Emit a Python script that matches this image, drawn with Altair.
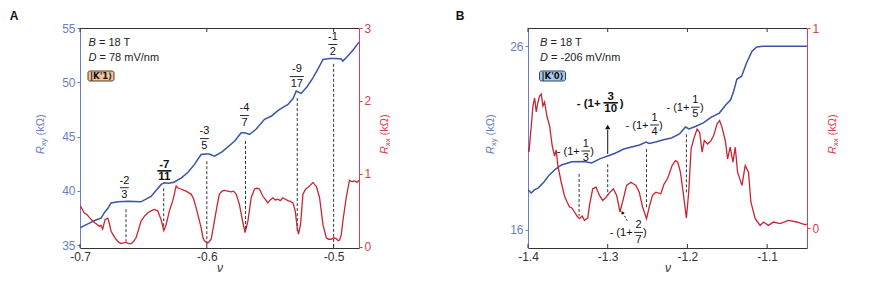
import altair as alt
import pandas as pd

FONT = "Liberation Sans"
BLUE = "#3b54a5"
BLUE_AX = "#6a7dc6"
RED = "#c92432"
RED_AX = "#d8414d"
DARK = "#333333"

# ---------------- Panel A data ----------------
a_xy_nu = [-0.700, -0.6934, -0.688, -0.6834, -0.6808, -0.678, -0.6755, -0.670, -0.662, -0.652,
           -0.644, -0.636, -0.6335, -0.630, -0.626, -0.620, -0.615, -0.610, -0.6045, -0.601,
           -0.598, -0.594, -0.588, -0.578, -0.5729, -0.570, -0.5664, -0.5610, -0.5545, -0.549,
           -0.544, -0.540, -0.536, -0.5320, -0.5295, -0.5256, -0.5210, -0.5163, -0.5120, -0.5084,
           -0.503, -0.498, -0.494, -0.4927, -0.4890, -0.4845, -0.4800]
a_xy = [36.6, 37.0, 37.3, 37.5, 38.0, 38.4, 38.9, 39.0, 39.05, 39.0,
        39.5, 40.6, 40.75, 40.7, 40.8, 41.2, 41.7, 42.4, 43.35, 43.4,
        43.4, 43.2, 43.6, 44.6, 45.35, 45.35, 45.2, 45.7, 46.6, 46.9,
        47.4, 47.7, 47.97, 48.5, 49.2, 48.98, 49.6, 50.4, 51.3, 52.1,
        52.2, 52.2, 52.15, 51.95, 52.4, 53.0, 53.7]

a_xx_nu = [-0.7000, -0.6992, -0.6966, -0.6945, -0.6927, -0.6905, -0.6887, -0.6870, -0.6848, -0.6835,
           -0.6821, -0.6803, -0.6781, -0.6770, -0.6755, -0.6735, -0.6716, -0.6695, -0.6676, -0.6655,
           -0.6637, -0.6617, -0.6597, -0.6578, -0.6558, -0.6540, -0.6519, -0.6490, -0.6466, -0.6440,
           -0.6414, -0.6387, -0.6361, -0.6339, -0.6321, -0.6295, -0.6268, -0.6242, -0.6225, -0.6203,
           -0.6180, -0.6163, -0.6145, -0.6124, -0.6105, -0.6084, -0.6065, -0.6045, -0.6030, -0.6019,
           -0.6005, -0.5992, -0.5980, -0.5966, -0.5940, -0.5920, -0.5901, -0.5880, -0.5861, -0.5835,
           -0.5808, -0.5790, -0.5769, -0.5743, -0.5716, -0.5698, -0.5676, -0.5650, -0.5624, -0.5605,
           -0.5585, -0.5558, -0.5540, -0.5519, -0.5500, -0.5479, -0.5460, -0.5440, -0.5420, -0.5400,
           -0.5380, -0.5361, -0.5340, -0.5321, -0.5303, -0.5287, -0.5277, -0.5261, -0.5242, -0.5220,
           -0.5203, -0.5185, -0.5163, -0.5150, -0.5137, -0.5111, -0.5084, -0.5058, -0.5040, -0.5019,
           -0.5000, -0.4979, -0.4965, -0.4953, -0.4940, -0.4927, -0.4901, -0.4875, -0.4855, -0.4835,
           -0.4815, -0.4800]
a_xx = [0.56, 0.54, 0.46, 0.44, 0.40, 0.36, 0.33, 0.31, 0.28, 0.29,
        0.24, 0.37, 0.39, 0.33, 0.21, 0.15, 0.10, 0.06, 0.04, 0.05,
        0.06, 0.04, 0.04, 0.07, 0.12, 0.22, 0.35, 0.42, 0.46, 0.49,
        0.51, 0.49, 0.37, 0.22, 0.30, 0.49, 0.63, 0.83, 0.80, 0.79,
        0.77, 0.76, 0.74, 0.72, 0.66, 0.53, 0.40, 0.26, 0.12, 0.08,
        0.06, 0.05, 0.07, 0.10, 0.35, 0.55, 0.72, 0.76, 0.77, 0.76,
        0.75, 0.76, 0.72, 0.58, 0.33, 0.19, 0.35, 0.67, 0.79, 0.80,
        0.79, 0.69, 0.65, 0.60, 0.64, 0.67, 0.64, 0.65, 0.63, 0.67,
        0.65, 0.63, 0.62, 0.60, 0.49, 0.26, 0.17, 0.30, 0.72, 0.79,
        0.81, 0.84, 0.88, 0.85, 0.83, 0.67, 0.30, 0.12, 0.10, 0.10,
        0.12, 0.11, 0.08, 0.09, 0.16, 0.35, 0.67, 0.91, 0.89, 0.90,
        0.88, 0.91]

a_frac_nu = [-0.665, -0.6335, -0.6019, -0.5703, -0.529, -0.5006]
a_frac_y = [40.30, 41.85, 44.82, 46.94, 50.53, 53.48]
a_frac_num = ["-2", "-7", "-3", "-4", "-9", "-1"]
a_frac_den = ["3", "11", "5", "7", "17", "2"]
a_frac_bold = [False, True, False, False, False, False]

a_dash_nu = [-0.6637, -0.634, -0.600, -0.5695, -0.5287, -0.500]
a_dash_top = [38.32, 40.25, 42.74, 44.6, 48.55, 51.7]
a_dash_bot = [35.37, 36.57, 35.1, 36.3, 36.3, 34.9]

# ---------------- Panel B data ----------------
b_xy_nu = [-1.400, -1.396, -1.392, -1.387, -1.380, -1.373, -1.365, -1.358, -1.345, -1.330,
           -1.320, -1.310, -1.300, -1.290, -1.280, -1.270, -1.260, -1.252, -1.248, -1.240,
           -1.230, -1.220, -1.210, -1.2025, -1.198, -1.190, -1.180, -1.170, -1.160, -1.152,
           -1.146, -1.142, -1.138, -1.132, -1.126, -1.119, -1.113, -1.105, -1.050]
b_xy = [18.17, 18.0, 18.17, 18.28, 18.6, 19.0, 19.32, 19.53, 19.7, 19.72,
        19.64, 19.86, 20.02, 20.18, 20.4, 20.51, 20.62, 20.78, 20.7, 20.78,
        20.9, 21.0, 21.22, 21.6, 21.49, 21.63, 21.82, 22.14, 22.36, 22.8,
        23.07, 23.55, 24.2, 24.37, 25.08, 25.73, 25.97, 26.0, 26.0]

b_xx_nu = [-1.4000, -1.3988, -1.3959, -1.3938, -1.3917, -1.3896, -1.3875, -1.3854, -1.3834, -1.3813,
           -1.3792, -1.3763, -1.3729, -1.3696, -1.3667, -1.3646, -1.3625, -1.3584, -1.3542, -1.3510,
           -1.3479, -1.3450, -1.3417, -1.3385, -1.3354, -1.3320, -1.3292, -1.3270, -1.3250, -1.3229,
           -1.3188, -1.3146, -1.3104, -1.3063, -1.3021, -1.2971, -1.2929, -1.2888, -1.2846, -1.2804,
           -1.2763, -1.2709, -1.2675, -1.2646, -1.2604, -1.2563, -1.2513, -1.2479, -1.2438, -1.2396,
           -1.2334, -1.2292, -1.2250, -1.2192, -1.2150, -1.2121, -1.2088, -1.2054, -1.2013, -1.1984,
           -1.1954, -1.1921, -1.1879, -1.1846, -1.1816, -1.1788, -1.1746, -1.1704, -1.1671, -1.1629,
           -1.1596, -1.1566, -1.1525, -1.1496, -1.1463, -1.1429, -1.1400, -1.1371, -1.1316, -1.1275,
           -1.1234, -1.1204, -1.1150, -1.1088, -1.1046, -1.0984, -1.0921, -1.0838, -1.0734, -1.0629,
           -1.0566, -1.0525, -1.0500]
b_xx = [0.40, 0.38, 0.51, 0.61, 0.65, 0.58, 0.63, 0.66, 0.67, 0.61,
        0.63, 0.56, 0.51, 0.41, 0.36, 0.39, 0.31, 0.23, 0.16, 0.13,
        0.105, 0.10, 0.08, 0.06, 0.047, 0.06, 0.038, 0.045, 0.05, 0.113,
        0.196, 0.204, 0.163, 0.138, 0.154, 0.179, 0.196, 0.163, 0.08, 0.146,
        0.213, 0.229, 0.22, 0.213, 0.179, 0.105, 0.047, 0.105, 0.163, 0.179,
        0.171, 0.221, 0.246, 0.312, 0.337, 0.329, 0.279, 0.179, 0.05, 0.179,
        0.396, 0.445, 0.495, 0.478, 0.379, 0.437, 0.42, 0.437, 0.462, 0.52,
        0.537, 0.503, 0.437, 0.346, 0.404, 0.329, 0.404, 0.279, 0.213, 0.312,
        0.279, 0.13, 0.047, 0.013, 0.03, 0.013, 0.03, 0.022, 0.038, 0.03,
        0.022, 0.017, 0.02]

b_frac_nu = [-1.3275, -1.2963, -1.2413, -1.1900, -1.2613]
b_frac_y = [20.29, 22.92, 21.71, 22.68, 15.85]
b_frac_num = ["1", "3", "1", "1", "2"]
b_frac_den = ["3", "10", "4", "5", "7"]
b_frac_bold = [False, True, False, False, False]

b_dash_nu = [-1.3359, -1.300, -1.2513, -1.2013]
b_dash_top = [19.04, 19.57, 20.39, 21.2]
b_dash_bot = [16.76, 17.85, 17.21, 18.03]

b_arrow_nu = [-1.300]
b_arrow_from = [20.13]
b_arrow_to = [21.45]
b_arrow_head = [21.6]

b_small_arrow_nu = [-1.2754, -1.2816]
b_small_arrow_y = [16.49, 16.94]


def t1(text):
    return pd.DataFrame({"t": [text]})


def panel(cfg):
    W, H = 279, 220
    xs = alt.Scale(domain=cfg["xdom"], nice=False, zero=False)
    ls = alt.Scale(domain=cfg["ldom"], nice=False, zero=False)
    rs = alt.Scale(domain=cfg["rdom"], nice=False, zero=False)
    xaxis = alt.Axis(values=cfg["xticks"], labelExpr="'-' + format(abs(datum.value), '.1f')",
                     title="ν", grid=False, ticks=False, domainColor=DARK, labelColor=DARK,
                     labelFontSize=12, labelFont=FONT, titleFont=FONT, titleFontSize=12,
                     titleFontStyle="italic", titleFontWeight="normal", titleColor=DARK,
                     labelPadding=3, titlePadding=0, labelFlush=False)
    laxis = alt.Axis(values=cfg["lticks"], orient="left", title=None, grid=False,
                     domainColor=BLUE_AX, tickColor=BLUE_AX, labelColor=BLUE_AX,
                     tickSize=3, labelPadding=2, labelFontSize=12, labelFont=FONT, format="d")
    raxis = alt.Axis(values=cfg["rticks"], orient="right", title=None, grid=False,
                     domainColor=RED_AX, tickColor=RED_AX, labelColor=RED_AX,
                     tickSize=3, labelPadding=2, labelFontSize=12, labelFont=FONT, format="d")
    X = lambda f: alt.X(f, scale=xs, axis=xaxis, title="ν")
    Y = lambda f: alt.Y(f, scale=ls, axis=laxis, title=None)

    df_xy = pd.DataFrame({"nu": cfg["xy_nu"], "v": cfg["xy"]})
    df_xx = pd.DataFrame({"nu": cfg["xx_nu"], "v": cfg["xx"]})

    line_xy = alt.Chart(df_xy).mark_line(color=BLUE, strokeWidth=1.5, clip=True).encode(
        x=X("nu:Q"), y=Y("v:Q"))

    df_dash = pd.DataFrame({"nu": cfg["dash_nu"], "top": cfg["dash_top"], "bot": cfg["dash_bot"]})
    dashes = alt.Chart(df_dash).mark_rule(color=DARK, strokeDash=[3, 2], strokeWidth=1).encode(
        x=X("nu:Q"), y=Y("top:Q"), y2="bot:Q")

    df_frac = pd.DataFrame({"nu": cfg["frac_nu"], "yb": cfg["frac_y"], "num": cfg["frac_num"],
                            "den": cfg["frac_den"], "bold": cfg["frac_bold"]})
    hw = cfg["hw"]
    layers = [line_xy, dashes]
    for bold in (False, True):
        wide = hw[2] if bold else hw[1]
        sub = alt.Chart(df_frac).transform_filter(
            "datum.bold" if bold else "!datum.bold").transform_calculate(
            x1=f"datum.nu - (length(datum.den) > 1 ? {wide} : {hw[0]})",
            x2=f"datum.nu + (length(datum.den) > 1 ? {wide} : {hw[0]})")
        fs = 11.5 if bold else 11
        fw = "bold" if bold else "normal"
        off = 6.2 if bold else 7.2
        layers.append(sub.mark_text(fontSize=fs, fontWeight=fw, font=FONT, color="#111",
                                    baseline="middle", dy=-off).encode(
            x=X("nu:Q"), y=Y("yb:Q"), text="num:N"))
        layers.append(sub.mark_text(fontSize=fs, fontWeight=fw, font=FONT, color="#111",
                                    baseline="middle", dy=off).encode(
            x=X("nu:Q"), y=Y("yb:Q"), text="den:N"))
        layers.append(sub.mark_rule(color="#111", strokeWidth=1.6 if bold else 0.9).encode(
            x=X("x1:Q"), x2="x2:Q", y=Y("yb:Q")))
        if cfg.get("paren"):
            pre_dx = -10 if bold else -6
            post_dx = 9 if bold else 4.5
            layers.append(sub.transform_calculate(p="'- (1+'").mark_text(
                fontSize=fs, fontWeight=fw, font=FONT, color="#111", align="right",
                baseline="middle", dx=pre_dx, dy=1).encode(
                x=X("nu:Q"), y=Y("yb:Q"), text="p:N"))
            layers.append(sub.transform_calculate(p="')'").mark_text(
                fontSize=fs, fontWeight=fw, font=FONT, color="#111", align="left",
                baseline="middle", dx=post_dx, dy=1).encode(
                x=X("nu:Q"), y=Y("yb:Q"), text="p:N"))

    if cfg.get("arrow"):
        df_ar = pd.DataFrame({"nu": b_arrow_nu, "a": b_arrow_from, "b": b_arrow_to, "h": b_arrow_head})
        layers.append(alt.Chart(df_ar).mark_rule(color="#111", strokeWidth=1).encode(
            x=X("nu:Q"), y=Y("a:Q"), y2="b:Q"))
        layers.append(alt.Chart(df_ar).mark_point(shape="triangle-up", filled=True, size=28,
                                                  color="#111", opacity=1).encode(
            x=X("nu:Q"), y=Y("h:Q")))
        df_sa = pd.DataFrame({"nu": b_small_arrow_nu, "y": b_small_arrow_y})
        layers.append(alt.Chart(df_sa).mark_line(color="#111", strokeDash=[2, 2], strokeWidth=1).encode(
            x=X("nu:Q"), y=Y("y:Q")))
        layers.append(alt.Chart(df_sa.iloc[[1]]).mark_point(shape="triangle-up", filled=True, size=14,
                                                            color="#111", opacity=1, angle=330).encode(
            x=X("nu:Q"), y=Y("y:Q")))

    # frame ticks (inward) at top and bottom, and top frame line
    df_t = pd.DataFrame({"nu": cfg["xticks"]})
    layers.append(alt.Chart(df_t).mark_rule(color=DARK, strokeWidth=1).encode(
        x=X("nu:Q"), y=alt.value(0), y2=alt.value(4)))
    layers.append(alt.Chart(df_t).mark_rule(color=DARK, strokeWidth=1).encode(
        x=X("nu:Q"), y=alt.value(H), y2=alt.value(H - 4)))
    layers.append(alt.Chart(t1("frame")).mark_rule(color=DARK, strokeWidth=1).encode(
        x=alt.value(0), x2=alt.value(W), y=alt.value(0.5)))

    # info text
    ix = cfg["info_x"]
    txt = dict(font=FONT, fontSize=11, color="#222", align="left", baseline="middle")
    layers.append(alt.Chart(t1("B")).mark_text(fontStyle="italic", **txt).encode(
        x=alt.value(ix), y=alt.value(15), text="t:N"))
    layers.append(alt.Chart(t1(cfg["b_text"])).mark_text(dx=10.5, **txt).encode(
        x=alt.value(ix), y=alt.value(15), text="t:N"))
    layers.append(alt.Chart(t1("D")).mark_text(fontStyle="italic", **txt).encode(
        x=alt.value(ix), y=alt.value(30), text="t:N"))
    layers.append(alt.Chart(t1(cfg["d_text"])).mark_text(dx=11, **txt).encode(
        x=alt.value(ix), y=alt.value(30), text="t:N"))
    layers.append(alt.Chart(t1(cfg["ket"])).mark_rect(
        fill=cfg["ket_fill"], stroke=cfg["ket_stroke"], strokeWidth=1, cornerRadius=2).encode(
        x=alt.value(ix - 0.5), x2=alt.value(ix + 25.5), y=alt.value(43), y2=alt.value(53)))
    layers.append(alt.Chart(t1(cfg["ket"])).mark_text(
        font="DejaVu Sans", fontSize=8.5, fontWeight="bold", color="#111", align="center",
        baseline="middle").encode(x=alt.value(ix + 12.5), y=alt.value(48.3), text="t:N"))

    # panel letter
    layers.append(alt.Chart(t1(cfg["letter"])).mark_text(
        font=FONT, fontSize=12, fontWeight="bold", color="#111", align="center",
        baseline="top").encode(x=alt.value(cfg["letter_x"]), y=alt.value(-17.5), text="t:N"))

    # axis titles (rotated, with subscript)
    def ytitle(x, sub, color):
        base = dict(font=FONT, color=color, angle=270, align="left", baseline="middle")
        return [
            alt.Chart(t1("R")).mark_text(fontSize=11, fontStyle="italic", **base).encode(
                x=alt.value(x), y=alt.value(126), text="t:N"),
            alt.Chart(t1(sub)).mark_text(fontSize=8, dx=7.8, dy=2.5, **base).encode(
                x=alt.value(x), y=alt.value(126), text="t:N"),
            alt.Chart(t1("(kΩ)")).mark_text(fontSize=11, dx=18.5, **base).encode(
                x=alt.value(x), y=alt.value(126), text="t:N"),
        ]
    layers += ytitle(cfg["lt_x"], "xy", BLUE_AX)
    layers += ytitle(cfg["rt_x"], "xx", RED_AX)

    left = alt.layer(*layers)

    right = alt.Chart(df_xx).mark_line(color=RED, strokeWidth=1.3, clip=True).encode(
        x=X("nu:Q"),
        y=alt.Y("v:Q", scale=rs, axis=raxis, title=None))

    return alt.layer(left, right).resolve_scale(y="independent").properties(width=W, height=H)


cfg_a = dict(xdom=[-0.7, -0.48], ldom=[34.75, 55], rdom=[-0.02, 3.0],
             xticks=[-0.7, -0.6, -0.5], lticks=[35, 40, 45, 50, 55], rticks=[0, 1, 2, 3],
             xy_nu=a_xy_nu, xy=a_xy, xx_nu=a_xx_nu, xx=a_xx,
             dash_nu=a_dash_nu, dash_top=a_dash_top, dash_bot=a_dash_bot,
             frac_nu=a_frac_nu, frac_y=a_frac_y, frac_num=a_frac_num, frac_den=a_frac_den,
             frac_bold=a_frac_bold, hw=[0.0035, 0.0055, 0.0055],
             info_x=8.5, b_text="= 18 T", d_text="= 78 mV/nm", ket="|K'1⟩",
             ket_fill="#f3c097", ket_stroke="#5a3d22", letter="A", letter_x=-66,
             lt_x=-39, rt_x=305)
cfg_b = dict(xdom=[-1.4, -1.05], ldom=[15, 27], rdom=[-0.1, 1.0],
             xticks=[-1.4, -1.3, -1.2, -1.1], lticks=[16, 26], rticks=[0, 1],
             xy_nu=b_xy_nu, xy=b_xy, xx_nu=b_xx_nu, xx=b_xx,
             dash_nu=b_dash_nu, dash_top=b_dash_top, dash_bot=b_dash_bot,
             frac_nu=b_frac_nu, frac_y=b_frac_y, frac_num=b_frac_num, frac_den=b_frac_den,
             frac_bold=b_frac_bold, hw=[0.0055, 0.009, 0.009], paren=True, arrow=True,
             info_x=12, b_text="= 18 T", d_text="= -206 mV/nm", ket="|K'0⟩",
             ket_fill="#a9c8ec", ket_stroke="#2b4672", letter="B", letter_x=-68,
             lt_x=-37, rt_x=305)

chart = alt.hconcat(panel(cfg_a), panel(cfg_b), spacing=169, bounds="flush").properties(
    padding={"left": 1, "top": 1, "right": 5, "bottom": 5}
).configure_view(stroke=DARK, strokeWidth=1).configure(font=FONT)

chart.save("out.html", embed_options={"renderer": "svg", "actions": False})
